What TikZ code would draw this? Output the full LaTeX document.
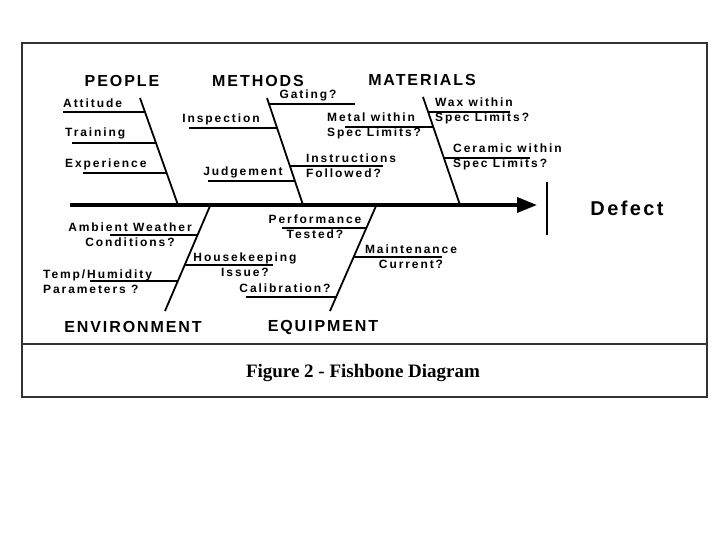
\documentclass[tikz,border=0pt]{standalone}
\usepackage{fontspec}
\setmainfont{Liberation Sans}
\newfontfamily\fishfont[LetterSpace=12]{Liberation Sans}
\newfontfamily\twigfont[LetterSpace=16]{Liberation Sans}
\newfontfamily\capfont{Liberation Serif}
\usetikzlibrary{arrows.meta,calc}

\begin{document}
\begin{tikzpicture}[
  x=1pt,y=-1pt,
  cause/.style={font=\fishfont\bfseries\fontsize{16}{18}\selectfont},
  twigtext/.style={font=\twigfont\bfseries\fontsize{12}{15}\selectfont,inner sep=0pt},
  bone/.style={line width=1.8pt},
  twig/.style={line width=1.2pt},
  spine/.style={line width=3.5pt,-{Triangle[length=20pt,width=15pt]}},
  frame/.style={draw=black!80,line width=1.6pt}
]
  \useasboundingbox (0,0) rectangle (720,540);
  \draw[frame] (22,43) rectangle (707,397);
  \draw[frame] (22,344)--(707,344);

  % spine and head
  \coordinate (tail) at (70,205);
  \coordinate (head) at (537,205);
  \draw[spine] (tail)--(head);
  \coordinate (barTop) at (547,182);
  \coordinate (barFoot) at (547,235);
  \draw[line width=2.2pt] (barTop)--(barFoot);
  \node[font=\fishfont\bfseries\fontsize{20}{22}\selectfont] (defect) at (627,208) {Defect};

  % upper bones
  \node[cause] (people) at (122,81) {PEOPLE};
  \node[cause] (methods) at (258,81) {METHODS};
  \node[cause] (materials) at (422,80) {MATERIALS};
  \coordinate (pplTop) at (140,98);  \coordinate (pplFoot) at (178,205);
  \coordinate (mthTop) at (267,98);  \coordinate (mthFoot) at (303,205);
  \coordinate (matTop) at (423,97);  \coordinate (matFoot) at (460,205);
  \draw[bone] (pplTop)--(pplFoot);
  \draw[bone] (mthTop)--(mthFoot);
  \draw[bone] (matTop)--(matFoot);

  \node[twigtext,anchor=west] (att) at (63,103) {Attitude};
  \node[twigtext,anchor=west] (trn) at (65,133) {Training};
  \node[twigtext,anchor=west] (exp) at (65,164) {Experience};
  \draw[twig] ($(pplTop)!0.131!(pplFoot)$) -- ++(-82,0);
  \draw[twig] ($(pplTop)!0.421!(pplFoot)$) -- ++(-84,0);
  \draw[twig] ($(pplTop)!0.701!(pplFoot)$) -- ++(-84,0);

  \node[twigtext] (gat) at (308,95) {Gating?};
  \node[twigtext] (insp) at (221,119) {Inspection};
  \node[twigtext,anchor=west,align=left] (instr) at (306,166) {Instructions\\Followed?};
  \node[twigtext] (judg) at (243,172) {Judgement};
  \node[twigtext,anchor=west,align=left] (metal) at (327,126) {Metal within\\Spec Limits?};
  \draw[twig] ($(mthTop)!0.056!(mthFoot)$) -- ++(86,0);
  \draw[twig] ($(mthTop)!0.28!(mthFoot)$) -- ++(-88,0);
  \draw[twig] ($(mthTop)!0.636!(mthFoot)$) -- ++(93,0);
  \draw[twig] ($(mthTop)!0.776!(mthFoot)$) -- ++(-87,0);

  \node[twigtext,anchor=west,align=left] (wax) at (435,111) {Wax within\\Spec Limits?};
  \node[twigtext,anchor=west,align=left] (cer) at (453,157) {Ceramic within\\Spec Limits?};
  \draw[twig] ($(matTop)!0.278!(matFoot)$) -- ++(-88,0);
  \draw[twig] ($(matTop)!0.139!(matFoot)$) -- ++(82,0);
  \draw[twig] ($(matTop)!0.565!(matFoot)$) -- ++(86,0);

  % lower bones
  \node[cause] (env) at (133,327) {ENVIRONMENT};
  \node[cause] (equip) at (323,327) {EQUIPMENT};
  \coordinate (envTop) at (210,206); \coordinate (envFoot) at (165,311);
  \coordinate (eqpTop) at (376,206); \coordinate (eqpFoot) at (330,311);
  \draw[bone] (envTop)--(envFoot);
  \draw[bone] (eqpTop)--(eqpFoot);

  \node[twigtext,align=center] (amb) at (130,235) {Ambient Weather\\Conditions?};
  \node[twigtext,anchor=west,align=left] (temp) at (43,282) {Temp/Humidity\\Parameters ?};
  \node[twigtext,align=center] (house) at (245,265) {Housekeeping\\Issue?};
  \draw[twig] ($(envTop)!0.276!(envFoot)$) -- ++(-88,0);
  \draw[twig] ($(envTop)!0.714!(envFoot)$) -- ++(-88,0);
  \draw[twig] ($(envTop)!0.562!(envFoot)$) -- ++(88,0);

  \node[twigtext,align=center] (perf) at (315,227) {Performance\\Tested?};
  \node[twigtext,align=center] (maint) at (411,257) {Maintenance\\Current?};
  \node[twigtext] (calib) at (285,288) {Calibration?};
  \draw[twig] ($(eqpTop)!0.21!(eqpFoot)$) -- ++(-84,0);
  \draw[twig] ($(eqpTop)!0.486!(eqpFoot)$) -- ++(88,0);
  \draw[twig] ($(eqpTop)!0.867!(eqpFoot)$) -- ++(-90,0);

  \node[font=\capfont\bfseries\fontsize{19}{21}\selectfont] (caption) at (363,373)
    {Figure 2 - Fishbone Diagram};
\end{tikzpicture}
\end{document}
